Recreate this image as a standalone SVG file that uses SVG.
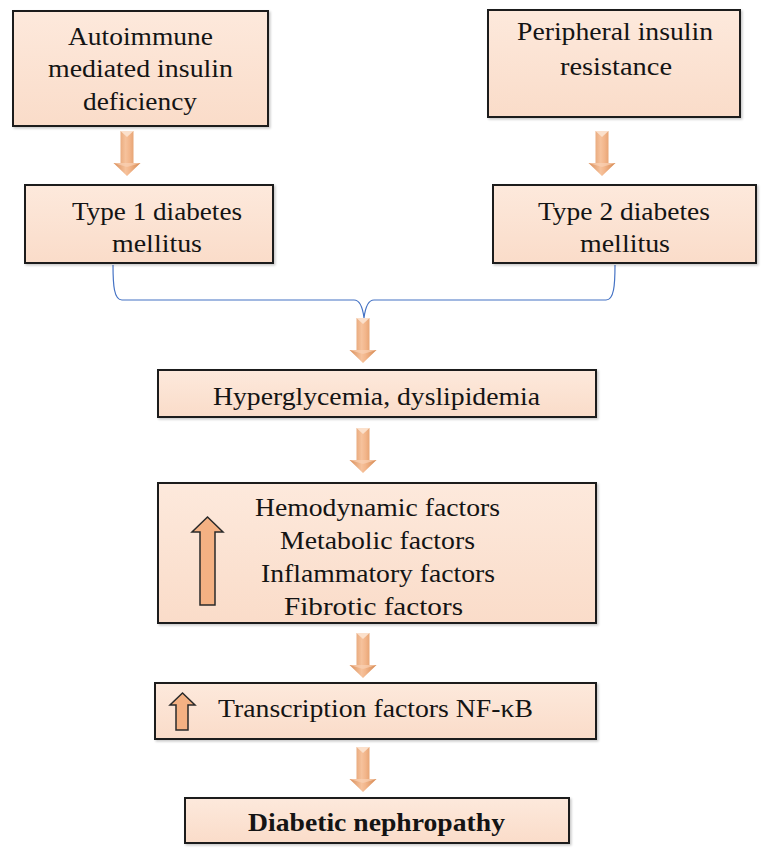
<svg xmlns="http://www.w3.org/2000/svg" width="762" height="849" viewBox="0 0 762 849">
<defs>
  <linearGradient id="boxFill" x1="0" y1="0" x2="0" y2="1">
    <stop offset="0" stop-color="#FDE9DC"/>
    <stop offset="1" stop-color="#FADCC9"/>
  </linearGradient>
  <linearGradient id="arrowFill" x1="0" y1="0" x2="1" y2="0">
    <stop offset="0" stop-color="#D98E5A"/>
    <stop offset="0.45" stop-color="#F6C29C"/>
    <stop offset="0.6" stop-color="#F2B58A"/>
    <stop offset="1" stop-color="#D4874F"/>
  </linearGradient>
  <filter id="shadow" x="-20%" y="-20%" width="140%" height="140%">
    <feDropShadow dx="1.5" dy="1.5" stdDeviation="1.2" flood-color="#000" flood-opacity="0.22"/>
  </filter>
  <g id="downArrow">
    <path d="M-6.5,0 L6.5,0 L6.5,32 L13.5,32 L0,45 L-13.5,32 L-6.5,32 Z" fill="url(#arrowFill)"/>
    <path d="M-6.5,0 L6.5,0 L0,6 Z" fill="#FBE0CB"/>
    <path d="M-13.5,32 L13.5,32 L0,36 Z" fill="#F9D2B5" opacity="0.7"/>
  </g>
</defs>
<style>
  .box { fill: url(#boxFill); stroke: #1E1E1E; stroke-width: 2; filter: url(#shadow); }
  .t { font-family: "Liberation Serif", "Times New Roman", serif; font-size: 25px; fill: #141414; text-anchor: middle; }
  .b { font-weight: bold; }
  .up { fill: #F4B183; stroke: #2A2A2A; stroke-width: 1.5; }
  .brace { fill: none; stroke: #4472C4; stroke-width: 1.2; }
</style>

<g id="connectors">
  <path class="brace" d="M113,265 C113,285 114,300 122,300 L354,300 C361,300 363,310 364,318 C365,310 367,300 374,300 L606,300 C614,300 615,285 615,265"/>
  <use href="#downArrow" transform="translate(127,131)"/>
  <use href="#downArrow" transform="translate(602,131)"/>
  <use href="#downArrow" transform="translate(363,318)"/>
  <use href="#downArrow" transform="translate(363,428)"/>
  <use href="#downArrow" transform="translate(363,633)"/>
  <use href="#downArrow" transform="translate(363,747)"/>
</g>

<g id="node-autoimmune">
  <rect class="box" x="13" y="11" width="255" height="115"/>
  <text class="t" x="140.5" y="45" textLength="145" lengthAdjust="spacingAndGlyphs">Autoimmune</text>
  <text class="t" x="140.5" y="77" textLength="185" lengthAdjust="spacingAndGlyphs">mediated insulin</text>
  <text class="t" x="140" y="110" textLength="114" lengthAdjust="spacingAndGlyphs">deficiency</text>
</g>

<g id="node-peripheral">
  <rect class="box" x="488" y="10" width="252" height="107"/>
  <text class="t" x="615" y="40" textLength="196" lengthAdjust="spacingAndGlyphs">Peripheral insulin</text>
  <text class="t" x="616" y="75" textLength="112" lengthAdjust="spacingAndGlyphs">resistance</text>
</g>

<g id="node-type1">
  <rect class="box" x="25" y="185" width="248" height="78"/>
  <text class="t" x="157" y="220" textLength="170" lengthAdjust="spacingAndGlyphs">Type 1 diabetes</text>
  <text class="t" x="157" y="252" textLength="90" lengthAdjust="spacingAndGlyphs">mellitus</text>
</g>

<g id="node-type2">
  <rect class="box" x="493" y="185" width="263" height="78"/>
  <text class="t" x="624" y="220" textLength="172" lengthAdjust="spacingAndGlyphs">Type 2 diabetes</text>
  <text class="t" x="625" y="252" textLength="90" lengthAdjust="spacingAndGlyphs">mellitus</text>
</g>

<g id="node-hyperglycemia">
  <rect class="box" x="158" y="370" width="438" height="47"/>
  <text class="t" x="376.5" y="405" textLength="327" lengthAdjust="spacingAndGlyphs">Hyperglycemia, dyslipidemia</text>
</g>

<g id="node-factors">
  <rect class="box" x="158" y="483" width="438" height="140"/>
  <path class="up" d="M207.5,517 L223,532 L215,532 L215,605 L200,605 L200,532 L192,532 Z"/>
  <text class="t" x="377.5" y="516" textLength="245" lengthAdjust="spacingAndGlyphs">Hemodynamic factors</text>
  <text class="t" x="377.5" y="549" textLength="195" lengthAdjust="spacingAndGlyphs">Metabolic factors</text>
  <text class="t" x="378" y="582" textLength="234" lengthAdjust="spacingAndGlyphs">Inflammatory factors</text>
  <text class="t" x="373.5" y="615" textLength="179" lengthAdjust="spacingAndGlyphs">Fibrotic factors</text>
</g>

<g id="node-nfkb">
  <rect class="box" x="155" y="683" width="441" height="56"/>
  <path class="up" d="M182.5,693 L195,705 L188,705 L188,730 L176,730 L176,705 L170,705 Z"/>
  <text class="t" x="375.5" y="717" textLength="315" lengthAdjust="spacingAndGlyphs">Transcription factors NF-κB</text>
</g>

<g id="node-nephropathy">
  <rect class="box" x="185" y="798" width="384" height="45"/>
  <text class="t b" x="376.5" y="831" textLength="257" lengthAdjust="spacingAndGlyphs">Diabetic nephropathy</text>
</g>
</svg>
